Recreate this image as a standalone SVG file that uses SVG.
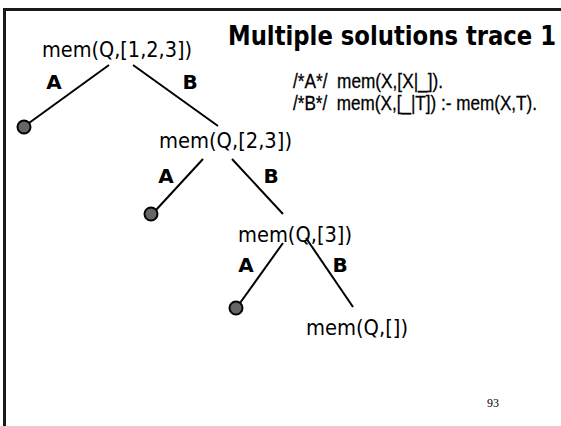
<svg xmlns="http://www.w3.org/2000/svg" width="561" height="426" viewBox="0 0 561 426">
<style>
.node{font-family:"DejaVu Sans Condensed","DejaVu Sans",sans-serif;font-size:21.5px;fill:#000}
.lbl{font-family:"DejaVu Sans","Verdana",sans-serif;font-weight:bold;font-size:20px;fill:#000;text-anchor:middle}
.title{font-family:"DejaVu Sans Condensed","DejaVu Sans",sans-serif;font-weight:bold;font-size:26px;fill:#000}
.rule{font-family:"Liberation Sans",Arial,sans-serif;font-size:21px;fill:#000;stroke:#000;stroke-width:0.3}
.edge{stroke:#000;stroke-width:2;fill:none}
.leaf{fill:#666;stroke:#000;stroke-width:2}
</style>
<rect x="4.5" y="9.5" width="620" height="500" fill="#fff" stroke="#1a1a1a" stroke-width="3"/>
<text class="title" x="228" y="45" textLength="328" lengthAdjust="spacingAndGlyphs">Multiple solutions trace 1</text>
<text class="rule" x="293" y="88" xml:space="preserve" textLength="150" lengthAdjust="spacingAndGlyphs">/*A*/  mem(X,[X|_]).</text>
<text class="rule" x="293" y="110" xml:space="preserve" textLength="244" lengthAdjust="spacingAndGlyphs">/*B*/  mem(X,[_|T]) :- mem(X,T).</text>
<g id="connectors">
<line class="edge" x1="109" y1="65" x2="29" y2="123"/>
<line class="edge" x1="133" y1="65" x2="218" y2="126"/>
<line class="edge" x1="203" y1="159" x2="156" y2="210"/>
<line class="edge" x1="232" y1="159" x2="283" y2="214"/>
<line class="edge" x1="283" y1="243" x2="240" y2="303"/>
<line class="edge" x1="306" y1="238" x2="353" y2="307"/>
<text class="lbl" x="54" y="89">A</text>
<text class="lbl" x="190" y="89">B</text>
<text class="lbl" x="166" y="183">A</text>
<text class="lbl" x="271" y="183">B</text>
<text class="lbl" x="246" y="272">A</text>
<text class="lbl" x="340" y="272">B</text>
</g>
<g id="n1"><text class="node" x="42" y="57" textLength="150" lengthAdjust="spacingAndGlyphs">mem(Q,[1,2,3])</text></g>
<g id="leaf1"><circle class="leaf" cx="24" cy="127" r="6.5"/></g>
<g id="n2"><text class="node" x="159" y="148" textLength="133" lengthAdjust="spacingAndGlyphs">mem(Q,[2,3])</text></g>
<g id="leaf2"><circle class="leaf" cx="151" cy="214" r="6.5"/></g>
<g id="n3"><text class="node" x="238" y="242" textLength="114" lengthAdjust="spacingAndGlyphs">mem(Q,[3])</text></g>
<g id="leaf3"><circle class="leaf" cx="236" cy="308" r="6.5"/></g>
<g id="n4"><text class="node" x="306" y="335" textLength="102" lengthAdjust="spacingAndGlyphs">mem(Q,[])</text></g>
<text x="487" y="407" font-family="Liberation Serif,serif" font-size="12" fill="#000">93</text>
</svg>
